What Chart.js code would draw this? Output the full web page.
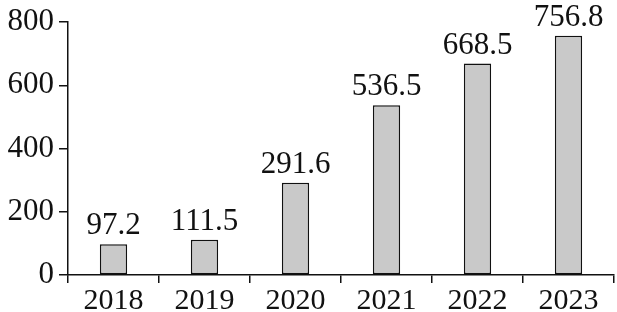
<!DOCTYPE html>
<html>
<head>
<meta charset="utf-8">
<script src="https://cdn.jsdelivr.net/npm/chart.js@4/dist/chart.umd.min.js"></script>
<style>
  html, body { margin: 0; padding: 0; background: #fff; }
  #wrap { width: 617px; height: 312px; }
</style>
</head>
<body>
<div id="wrap"><canvas id="c"></canvas></div>
<script>
// ── data ──
const years = ['2018', '2019', '2020', '2021', '2022', '2023'];
const values = [97.2, 111.5, 291.6, 536.5, 668.5, 756.8];
const yTicks = [0, 200, 400, 600, 800];

const FONT = "'Liberation Serif', 'Times New Roman', serif";

// 막대 위 값 표시
const valueLabels = {
  id: 'valueLabels',
  afterDatasetsDraw(chart) {
    const ctx = chart.ctx;
    const meta = chart.getDatasetMeta(0);
    ctx.save();
    ctx.font = `31px ${FONT}`;
    ctx.fillStyle = '#111';
    ctx.textAlign = 'center';
    ctx.textBaseline = 'alphabetic';
    meta.data.forEach((bar, i) => {
      ctx.fillText(values[i].toFixed(1), bar.x, bar.y - 10);
    });
    ctx.restore();
  }
};

new Chart(document.getElementById('c'), {
  type: 'bar',
  data: {
    labels: years,
    datasets: [{
      data: values,
      backgroundColor: '#c9c9c9',
      borderColor: '#111',
      borderWidth: 1.5,
      borderSkipped: false,
      barPercentage: 0.3,
      categoryPercentage: 1,
    }],
  },
  options: {
    responsive: true,
    maintainAspectRatio: false,
    animation: false,
    layout: { padding: { top: 22, right: 3, left: 0, bottom: 0 } },
    plugins: { legend: { display: false }, tooltip: { enabled: false } },
    scales: {
      x: {
        border: { color: '#111', width: 1.5 },
        grid: { drawOnChartArea: false, color: '#111', lineWidth: 1.5, tickLength: 8, offset: true },
        ticks: { font: { family: FONT, size: 30 }, color: '#111', padding: 0, maxRotation: 0 },
        afterFit: (s) => { s.height = 37; },
      },
      y: {
        min: 0,
        max: 800,
        afterBuildTicks: (s) => { s.ticks = yTicks.map(v => ({ value: v })); },
        border: { color: '#111', width: 1.5 },
        grid: { drawOnChartArea: false, color: '#111', lineWidth: 1.5, tickLength: 9 },
        ticks: { font: { family: FONT, size: 31, lineHeight: 0.9 }, color: '#111', padding: 5 },
        afterFit: (s) => { s.width = 68; },
      },
    },
  },
  plugins: [valueLabels],
});
</script>
</body>
</html>
